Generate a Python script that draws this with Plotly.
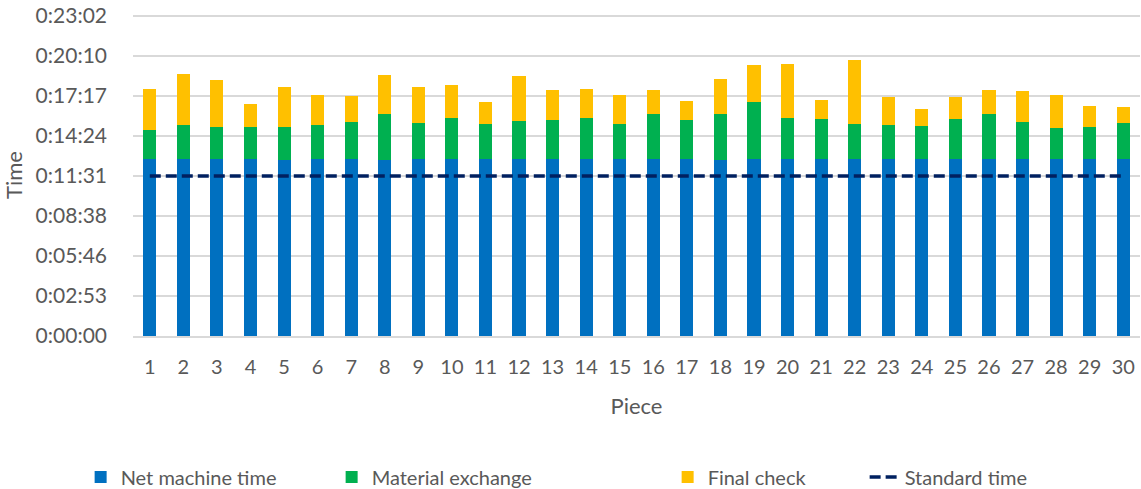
import plotly.graph_objects as go

pieces = list(range(1, 31))
# durations in seconds
net_machine = [763, 766, 765, 765, 760, 766, 765, 760, 765, 766,
               762, 762, 765, 765, 762, 765, 765, 760, 765, 766,
               766, 762, 762, 762, 765, 765, 766, 762, 762, 762]
material_exchange = [127, 144, 137, 137, 141, 143, 159, 200, 154, 177,
                     154, 167, 168, 175, 154, 194, 168, 199, 246, 174,
                     171, 154, 148, 145, 171, 193, 158, 137, 141, 156]
final_check = [176, 222, 202, 99, 173, 131, 111, 165, 156, 140,
               94, 192, 131, 125, 123, 105, 81, 150, 160, 236,
               81, 274, 121, 72, 95, 105, 133, 141, 89, 69]
standard_time = 691
tick_seconds = [0, 172.8, 345.6, 518.4, 691.2, 864, 1036.8, 1209.6, 1382.4]
tick_labels = ["0:00:00", "0:02:53", "0:05:46", "0:08:38", "0:11:31",
               "0:14:24", "0:17:17", "0:20:10", "0:23:02"]

FONT = "Lato"
GREY = "#595959"

fig = go.Figure()
fig.add_trace(go.Bar(x=pieces, y=net_machine, name="Net machine time", legendwidth=206,
                     marker=dict(color="#0070C0", line=dict(width=0))))
fig.add_trace(go.Bar(x=pieces, y=material_exchange, name="Material exchange", legendwidth=291,
                     marker=dict(color="#00B050", line=dict(width=0))))
fig.add_trace(go.Bar(x=pieces, y=final_check, name="Final check", legendwidth=152,
                     marker=dict(color="#FFC000", line=dict(width=0))))
fig.add_trace(go.Scatter(x=pieces, y=[standard_time] * len(pieces), name="Standard time",
                         mode="lines", line=dict(color="#002060", width=3.5, dash="11px,5px")))

fig.update_layout(
    width=1141, height=489,
    barmode="stack", bargap=0.61,
    margin=dict(l=133, r=1, t=14, b=153, autoexpand=False),
    plot_bgcolor="white", paper_bgcolor="white",
    font=dict(family=FONT, size=20, color=GREY),
    showlegend=True,
    legend=dict(orientation="h", x=-0.052, xanchor="left", y=-0.4379, yanchor="middle",
                font=dict(size=20, color=GREY), traceorder="normal"),
)
fig.update_xaxes(range=[0.5, 30.5], tickvals=pieces, ticktext=[str(p) for p in pieces],
                 showgrid=False, showline=True, linecolor="#D9D9D9", linewidth=1.5,
                 ticks="", ticklabelstandoff=12, tickfont=dict(size=20, color=GREY),
                 title=dict(text="Piece", font=dict(size=22, color=GREY), standoff=22),
                 automargin=False, zeroline=False)
fig.update_yaxes(range=[0, 1390], tickvals=tick_seconds, ticktext=tick_labels,
                 showgrid=True, gridcolor="#D9D9D9", gridwidth=1.5,
                 ticks="", ticklabelstandoff=25, tickfont=dict(size=21, color=GREY),
                 ticklabeloverflow="allow",
                 title=dict(text="Time", font=dict(size=22, color=GREY), standoff=12),
                 automargin=False, zeroline=False)

fig.write_html("out.html", config={"displayModeBar": False},
               post_script="document.body.style.margin='0';document.body.style.overflow='hidden';")
